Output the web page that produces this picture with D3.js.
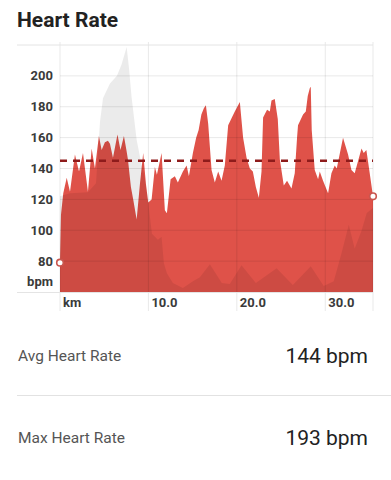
<!DOCTYPE html>
<html lang="en">
<head>
<meta charset="UTF-8">
<title>Heart Rate</title>
<script src="https://d3js.org/d3.v7.min.js"></script>
<style>
body { margin: 0; background: #fff; font-family: Roboto, "Noto Sans", sans-serif; }
svg { display: block; }
.ylab, .xlab { font-size: 13px; font-weight: 700; fill: #3a3a3a; }
</style>
</head>
<body>
<script>
// heart rate samples (distance in km, bpm)
const hrKm = [0, 0.11, 0.37, 0.76, 1.13, 1.69, 2.15, 2.6, 3.16, 3.58, 3.95, 4.4, 4.71, 5.08, 5.42, 5.65, 5.99, 6.5, 6.84, 7.23, 7.51, 7.68,
  8.02, 8.28, 8.67, 9.04, 9.41, 9.72, 9.98, 10.36, 10.73, 10.96, 11.49, 11.86, 12.09, 12.51, 12.99, 13.33, 13.9, 14.32, 14.58, 15.03,
  15.4, 15.68, 15.99, 16.27, 16.5, 16.76, 17.14, 17.51, 17.89, 18.27, 18.64, 19.02, 19.44, 19.77, 20.34, 20.71, 21.1, 21.47, 21.81,
  22.15, 22.49, 22.79, 22.97, 23.42, 23.73, 23.92, 24.29, 24.63, 24.86, 25.31, 25.68, 26.18, 26.55, 26.81, 26.92, 27.49, 27.8, 28.02,
  28.25, 28.36, 28.47, 28.81, 29.19, 29.38, 29.75, 30.32, 30.7, 31.07, 31.3, 32.01, 32.58, 32.96, 33.33, 34.1, 34.35, 34.65, 35.03, 35.4];
const hrBpm = [79, 110, 124, 134, 125, 149, 138, 150, 125, 153, 140, 161, 152, 157, 158, 156, 147, 162, 152, 161, 152, 146,
  128, 120, 107, 130, 150, 130, 118, 120, 141, 136, 150, 113, 111, 133, 135, 131, 138, 142, 135, 150,
  160, 165, 175, 179, 181, 169, 139, 131, 138, 132, 142, 168, 173, 177, 183, 160, 147, 140, 138,
  128, 121, 138, 173, 178, 177, 184, 185, 172, 146, 129, 132, 127, 137, 160, 168, 175, 177, 187,
  192, 193, 165, 139, 133, 138, 132, 124, 137, 142, 140, 160, 149, 139, 137, 153, 150, 152, 137, 122];

// elevation profile (distance in km, metres)
const elevKm = [0, 1.13, 3.16, 4.07, 4.52, 4.86, 5.65, 6.44, 6.95, 7.54, 7.8, 8.1, 8.67, 9.15, 9.6, 9.94, 10.4, 11.07, 11.49, 11.75,
  12.09, 12.77, 13.9, 15.03, 15.82, 16.95, 18.3, 19.2, 20.53, 22.15, 24.5, 26.33, 28.36, 29.83, 30.96, 31.86, 32.66, 33.33, 34.1, 34.69, 35.4];
const elevM = [97, 100, 101, 110, 172, 196, 211, 219, 230, 248, 227, 197, 154, 132, 115, 93, 59, 53, 56, 29,
  19, 9, 4, 11, 15, 28, 9, 8, 27, 9, 24, 7, 26, 6, 11, 40, 68, 44, 62, 80, 85];

const yTicks = [80, 100, 120, 140, 160, 180, 200];
const xTicks = [10, 20, 30];
const avgBpm = 145;
const stats = [["Avg Heart Rate", "144 bpm"], ["Max Heart Rate", "193 bpm"]];

const W = 391, H = 480;
const pLeft = 60, pRight = 373, pTop = 45, pBottom = 292;

const svg = d3.select('body').append('svg').attr('width', W).attr('height', H);

const x = d3.scaleLinear().domain([0, 35.4]).range([pLeft, pRight]);
const y = d3.scaleLinear().domain([60, 220]).range([pBottom, pTop]);
const yE = d3.scaleLinear().domain([0, 250]).range([pBottom, pTop]);

svg.append('text').attr('x', 17).attr('y', 27).text('Heart Rate')
  .style('font-size', '21px').style('font-weight', 700).style('fill', '#222');

const hr = hrKm.map((k, i) => ({k: k, v: hrBpm[i]}));
const elev = elevKm.map((k, i) => ({k: k, v: elevM[i]}));

svg.append('path').datum(hr)
  .attr('d', d3.area().x(d => x(d.k)).y0(pBottom).y1(d => y(d.v)))
  .attr('fill', '#df5249');

svg.append('path').datum(elev)
  .attr('d', d3.area().x(d => x(d.k)).y0(pBottom).y1(d => yE(d.v)))
  .attr('fill', 'rgba(0,0,0,0.08)');

// grid
svg.append('g').selectAll('line').data(yTicks).enter().append('line')
  .attr('x1', pLeft).attr('x2', pRight).attr('y1', d => y(d)).attr('y2', d => y(d))
  .attr('stroke', 'rgba(0,0,0,0.09)').attr('stroke-width', 1);
svg.append('g').selectAll('line').data([0].concat(xTicks, [35.4])).enter().append('line')
  .attr('x1', d => x(d)).attr('x2', d => x(d)).attr('y1', pTop - 3).attr('y2', 311)
  .attr('stroke', 'rgba(0,0,0,0.09)').attr('stroke-width', 1);
svg.append('line').attr('x1', 17).attr('x2', pRight).attr('y1', pTop).attr('y2', pTop)
  .attr('stroke', '#e4e4e4');
svg.append('line').attr('x1', 17).attr('x2', pRight).attr('y1', pBottom + 0.5).attr('y2', pBottom + 0.5)
  .attr('stroke', '#e4e4e4');

svg.append('g').selectAll('text').data(yTicks).enter().append('text')
  .attr('class', 'ylab').attr('x', 53).attr('y', d => y(d)).attr('dy', '0.35em')
  .attr('text-anchor', 'end').text(d => d);
svg.append('text').attr('class', 'ylab').attr('x', 53).attr('y', 286).attr('text-anchor', 'end').text('bpm');

svg.append('text').attr('class', 'xlab').attr('x', x(0) + 3).attr('y', 307).text('km');
svg.append('g').selectAll('text').data(xTicks).enter().append('text')
  .attr('class', 'xlab').attr('x', d => x(d) + 3).attr('y', 307).text(d => d.toFixed(1));

// average line
svg.append('line').attr('x1', pLeft).attr('x2', pRight).attr('y1', y(avgBpm)).attr('y2', y(avgBpm))
  .attr('stroke', '#8e1b1b').attr('stroke-width', 2.6).attr('stroke-dasharray', '7,6');

// end markers
svg.selectAll('circle.end').data([hr[0], hr[hr.length - 1]]).enter().append('circle')
  .attr('cx', d => x(d.k)).attr('cy', d => y(d.v)).attr('r', 3.3)
  .attr('fill', '#fff').attr('stroke', '#c9564f').attr('stroke-width', 1.6);

// stats
const rows = svg.append('g');
stats.forEach((s, i) => {
  const base = 361 + i * 82;
  rows.append('text').attr('x', 18).attr('y', base).text(s[0])
    .style('font-size', '15.5px').style('fill', '#555');
  rows.append('text').attr('x', 368).attr('y', base + 2).attr('text-anchor', 'end').text(s[1])
    .style('font-size', '21px').style('fill', '#222');
});
rows.append('line').attr('x1', 17).attr('x2', W).attr('y1', 395.5).attr('y2', 395.5).attr('stroke', '#e2e2e2');
</script>
</body>
</html>
